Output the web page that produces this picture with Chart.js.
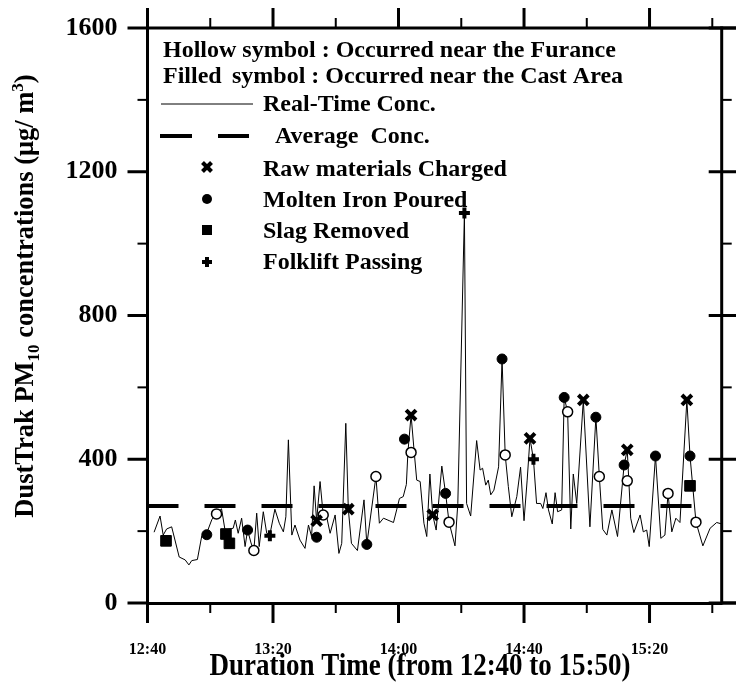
<!DOCTYPE html>
<html>
<head>
<meta charset="utf-8">
<script src="https://cdn.jsdelivr.net/npm/chart.js@4.4.0/dist/chart.umd.min.js"></script>
<style>
  html, body { margin: 0; padding: 0; background: #fff; }
</style>
</head>
<body>
<canvas id="chart" width="736" height="682"></canvas>
<script>
// --- Data (minutes after 12:40, PM10 in ug/m3) ---
const minutes = [2.1, 4.0, 5.0, 6.1, 7.7, 10.1, 12.0, 13.2, 14.1, 15.9, 17.3, 18.9, 20.5, 22.0, 23.6, 24.7, 27.3, 28.0, 28.9, 30.0,
  31.1, 31.9, 33.0, 33.9, 34.8, 35.6, 36.9, 38.0, 39.0, 40.6, 42.0, 43.3, 44.1, 44.9, 46.0, 47.0, 48.6, 50.2, 51.3, 52.3,
  53.1, 53.9, 55.0, 56.0, 57.1, 58.2, 59.8, 61.0, 61.9, 63.2, 64.0, 65.0, 66.9, 69.0, 69.9, 72.8, 73.9, 75.2, 78.4, 79.4,
  80.3, 81.5, 82.5, 83.0, 84.0, 85.0, 85.8, 86.9, 88.1, 89.0, 90.0, 90.9, 92.0, 93.8, 95.0, 96.1, 98.0, 98.9, 101.0, 101.7,
  103.0, 104.9, 106.0, 106.8, 107.8, 108.6, 109.4, 110.4, 111.9, 113.0, 114.0, 115.0, 116.1, 117.7, 118.9, 120.0, 121.0, 121.9, 123.0, 124.0,
  125.3, 126.0, 127.0, 127.8, 129.0, 129.9, 130.7, 132.0, 132.8, 133.9, 134.9, 135.7, 136.8, 138.9, 141.0, 142.9, 144.0, 145.1, 146.4, 148.0,
  149.8, 151.9, 152.9, 154.0, 155.0, 157.0, 158.0, 159.1, 159.9, 161.9, 163.6, 164.9, 165.9, 167.1, 168.4, 169.7, 171.9, 172.9, 174.8, 177.0,
  179.3, 181.4, 183.0];
const concentration = [197, 242, 189, 206, 212, 128, 120, 106, 118, 121, 187, 195, 232, 249, 262, 203, 208, 231, 194, 236,
  157, 203, 167, 146, 250, 157, 254, 194, 190, 261, 222, 198, 240, 454, 189, 217, 175, 152, 217, 185,
  326, 229, 338, 245, 240, 194, 245, 138, 166, 500, 261, 166, 146, 287, 163, 352, 222, 236, 224, 259,
  291, 296, 330, 420, 523, 420, 342, 338, 222, 185, 359, 245, 203, 381, 305, 225, 159, 277, 1085, 277,
  242, 452, 370, 375, 328, 342, 301, 314, 379, 679, 412, 324, 240, 296, 378, 229, 342, 458, 400, 277,
  277, 263, 307, 259, 220, 307, 254, 259, 572, 532, 206, 359, 277, 565, 212, 517, 352, 205, 189, 259,
  185, 384, 426, 236, 196, 245, 198, 203, 157, 409, 180, 189, 305, 198, 236, 224, 565, 409, 225, 159,
  208, 224, 220];
const averageConc = 270;
const averageSpan = [0, 174.2];
const timeSpan = [0, 183];

// event markers
const rawTime = [53.9, 64.0, 84.0, 90.9, 121.9, 138.9, 152.9, 171.9];
const rawConc = [229, 261, 523, 245, 458, 565, 426, 565];
const moltenFilledTime = [18.9, 31.9, 53.9, 69.9, 81.9, 95.0, 113.0, 132.8, 142.9, 151.9, 161.9, 172.9];
const moltenFilledConc = [190, 203, 183, 163, 456, 305, 679, 572, 517, 384, 409, 409];
const moltenHollowTime = [22.0, 33.9, 56.0, 72.8, 84.0, 96.1, 114.0, 133.9, 144.0, 152.9, 165.9, 174.8];
const moltenHollowConc = [248, 146, 245, 352, 419, 225, 412, 532, 352, 340, 305, 225];
const slagTime = [5.9, 25.0, 26.1, 172.9];
const slagConc = [173, 192, 166, 326];
const forkliftTime = [39.0, 101.0, 123.0];
const forkliftConc = [187, 1085, 400];

// axis ticks
const timeTicks = [0, 40, 80, 120, 160];
const timeLabels = ["12:40", "13:20", "14:00", "14:40", "15:20"];
const concTicks = [0, 400, 800, 1200, 1600];

// texts
const legendNotes = ["Hollow symbol : Occurred near the Furance", "Filled", "symbol : Occurred near the Cast Area"];
const seriesNames = ["Real-Time Conc.", "Average  Conc.", "Raw materials Charged", "Molten Iron Poured", "Slag Removed", "Folklift Passing"];
const xTitle = "Duration Time (from 12:40 to 15:50)";

const FONT = "'Liberation Serif', 'Times New Roman', serif";

const pts = (xs, ys) => xs.map((x, i) => ({ x: x, y: ys[i] }));

function line(ctx, x1, y1, x2, y2) {
  ctx.beginPath();
  ctx.moveTo(x1, y1);
  ctx.lineTo(x2, y2);
  ctx.stroke();
}

// Frame on top/right plus major/minor tick marks on all four sides
const tickPlugin = {
  id: "tickMarks",
  afterDraw(chart) {
    const ctx = chart.ctx;
    const area = chart.chartArea;
    const xs = chart.scales.x;
    const ys = chart.scales.y;
    ctx.save();
    ctx.strokeStyle = "#000";
    ctx.lineWidth = 3;
    line(ctx, area.left - 1.5, area.top, chart.width, area.top);
    line(ctx, area.right, area.top - 1.5, area.right, area.bottom + 1.5);
    line(ctx, area.right, area.bottom, chart.width, area.bottom);
    xs.ticks.forEach((tk) => {
      if (tk.value % 20 !== 0) return;
      const px = xs.getPixelForValue(tk.value);
      const major = timeTicks.includes(tk.value);
      ctx.lineWidth = major ? 3 : 2;
      line(ctx, px, area.bottom, px, area.bottom + (major ? 20 : 10));
      line(ctx, px, area.top, px, area.top - (major ? 20 : 10));
    });
    ys.ticks.forEach((tk) => {
      const py = ys.getPixelForValue(tk.value);
      const major = concTicks.includes(tk.value);
      ctx.lineWidth = major ? 3 : 2;
      line(ctx, area.left, py, area.left - (major ? 20 : 10), py);
      if (major) line(ctx, area.right - 13, py, area.right + 15, py);
      else line(ctx, area.right, py, area.right + 10, py);
    });
    ctx.restore();
  },
};

// Titles and the in-plot legend
const textPlugin = {
  id: "texts",
  afterDraw(chart) {
    const ctx = chart.ctx;
    ctx.save();
    ctx.fillStyle = "#000";
    ctx.strokeStyle = "#000";
    ctx.textBaseline = "alphabetic";

    // x title (slightly tall lettering)
    ctx.save();
    ctx.translate(420, 675);
    ctx.scale(1, 1.15);
    ctx.font = "bold 27px " + FONT;
    ctx.textAlign = "center";
    ctx.fillText(xTitle, 0, 0);
    ctx.restore();

    // y title, rotated, with sub/superscript
    ctx.save();
    ctx.translate(33, 296);
    ctx.rotate(-Math.PI / 2);
    ctx.textAlign = "left";
    const big = "bold 26.5px " + FONT;
    const small = "bold 17px " + FONT;
    const parts = [
      ["DustTrak PM", big, 0],
      ["10", small, 6],
      [" concentrations (\u03bcg/ m", big, 0],
      ["3", small, -10],
      [")", big, 0],
    ];
    let total = 0;
    parts.forEach((p) => { ctx.font = p[1]; total += ctx.measureText(p[0]).width; });
    let cx = -total / 2;
    parts.forEach((p) => {
      ctx.font = p[1];
      ctx.fillText(p[0], cx, p[2]);
      cx += ctx.measureText(p[0]).width;
    });
    ctx.restore();

    // legend
    ctx.font = "bold 24px " + FONT;
    ctx.textAlign = "left";
    ctx.fillText(legendNotes[0], 163, 57);
    ctx.fillText(legendNotes[1], 163, 83);
    ctx.fillText(legendNotes[2], 232, 83);

    ctx.lineWidth = 1;
    line(ctx, 161, 104, 253, 104);
    ctx.fillText(seriesNames[0], 263, 111);

    ctx.lineWidth = 4;
    line(ctx, 160, 136, 192, 136);
    line(ctx, 218, 136, 249, 136);
    ctx.fillText(seriesNames[1], 275, 143);

    const mx = 207;
    // raw materials: bold x
    ctx.lineWidth = 4;
    line(ctx, mx - 4.5, 167 - 4.5, mx + 4.5, 167 + 4.5);
    line(ctx, mx - 4.5, 167 + 4.5, mx + 4.5, 167 - 4.5);
    ctx.fillText(seriesNames[2], 263, 176);
    // molten iron: filled circle
    ctx.beginPath();
    ctx.arc(mx, 199, 5, 0, Math.PI * 2);
    ctx.fill();
    ctx.fillText(seriesNames[3], 263, 207);
    // slag: filled square
    ctx.fillRect(mx - 5, 225, 10, 10);
    ctx.fillText(seriesNames[4], 263, 238);
    // forklift: plus
    ctx.lineWidth = 4;
    line(ctx, mx - 5, 262, mx + 5, 262);
    line(ctx, mx, 257, mx, 267);
    ctx.fillText(seriesNames[5], 263, 269);

    ctx.restore();
  },
};

const markerBase = { showLine: false, borderColor: "#000", backgroundColor: "#000", order: 0 };

// invisible grid so the tick length gives the label gap (ticks are drawn by tickPlugin)
const hiddenGrid = (len) => ({
  display: true,
  drawOnChartArea: false,
  drawTicks: true,
  tickLength: len,
  color: "rgba(0,0,0,0)",
  tickColor: "rgba(0,0,0,0)",
});

const ctx = document.getElementById("chart").getContext("2d");
const chart = new Chart(ctx, {
  type: "line",
  data: {
    datasets: [
      Object.assign({}, markerBase, {
        label: seriesNames[2],
        data: pts(rawTime, rawConc),
        pointStyle: "crossRot",
        pointRadius: 7,
        pointBorderWidth: 4,
      }),
      Object.assign({}, markerBase, {
        label: seriesNames[3],
        data: pts(moltenFilledTime, moltenFilledConc),
        pointStyle: "circle",
        pointRadius: 5,
        pointBorderWidth: 1,
      }),
      Object.assign({}, markerBase, {
        label: seriesNames[3] + " (furnace)",
        data: pts(moltenHollowTime, moltenHollowConc),
        pointStyle: "circle",
        pointRadius: 5,
        pointBorderWidth: 1.5,
        backgroundColor: "#fff",
      }),
      Object.assign({}, markerBase, {
        label: seriesNames[4],
        data: pts(slagTime, slagConc),
        pointStyle: "rect",
        pointRadius: 7.5,
        pointBorderWidth: 1,
      }),
      Object.assign({}, markerBase, {
        label: seriesNames[5],
        data: pts(forkliftTime, forkliftConc),
        pointStyle: "cross",
        pointRadius: 5.5,
        pointBorderWidth: 4,
      }),
      {
        label: seriesNames[0],
        data: pts(minutes, concentration),
        borderColor: "#000",
        borderWidth: 1,
        pointRadius: 0,
        tension: 0,
        order: 2,
      },
      {
        label: seriesNames[1],
        data: pts(averageSpan, [averageConc, averageConc]),
        borderColor: "#000",
        borderWidth: 4,
        borderDash: [31, 26],
        borderCapStyle: "butt",
        pointRadius: 0,
        order: 3,
      },
    ],
  },
  options: {
    responsive: false,
    animation: false,
    devicePixelRatio: 1,
    events: [],
    layout: { padding: { top: 28, right: 14.3, left: 0, bottom: 0 }, autoPadding: false },
    plugins: {
      legend: { display: false },
      tooltip: { enabled: false },
    },
    scales: {
      x: {
        type: "linear",
        position: "bottom",
        min: timeSpan[0],
        max: timeSpan[1],
        grid: hiddenGrid(37),
        border: { display: true, color: "#000", width: 3 },
        ticks: {
          stepSize: 20,
          includeBounds: false,
          autoSkip: false,
          maxRotation: 0,
          padding: 0,
          color: "#000",
          font: { family: FONT, size: 16, weight: "bold" },
          callback: (v) => {
            const i = timeTicks.indexOf(v);
            return i >= 0 ? timeLabels[i] : "";
          },
        },
        afterFit: (s) => { s.height = 79; },
      },
      y: {
        position: "left",
        min: 0,
        max: 1600,
        grid: hiddenGrid(30),
        border: { display: true, color: "#000", width: 3 },
        ticks: {
          stepSize: 200,
          padding: 0,
          color: "#000",
          font: { family: FONT, size: 26, weight: "bold" },
          callback: (v) => (concTicks.includes(v) ? String(v) : ""),
        },
        afterFit: (s) => { s.width = 147.5; },
      },
    },
  },
  plugins: [tickPlugin, textPlugin],
});
</script>
</body>
</html>
